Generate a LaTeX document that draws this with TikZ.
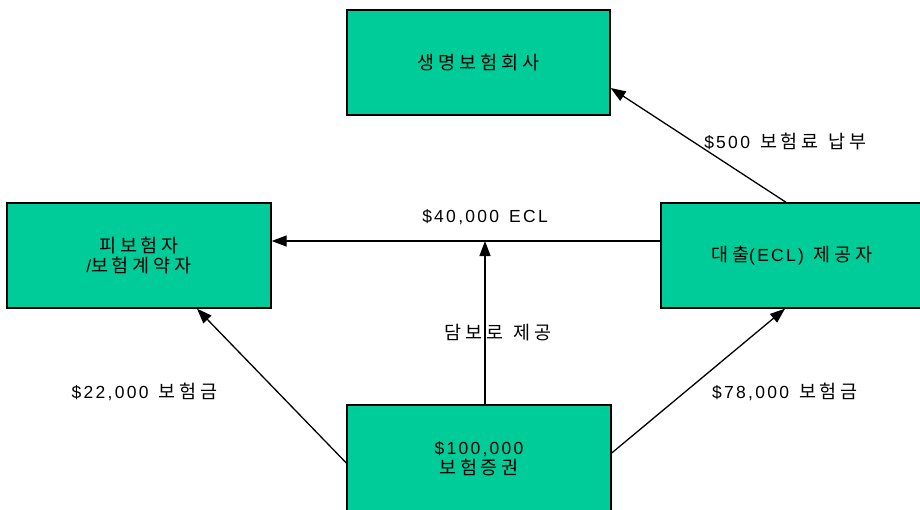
\documentclass[tikz,border=0pt]{standalone}
\usepackage{fontspec}
\usetikzlibrary{arrows.meta}
\newfontfamily\krfont[LetterSpace=21]{Noto Sans CJK KR}
\newfontfamily\lafont[LetterSpace=13]{Liberation Sans}
\newcommand{\kr}[1]{{\fontsize{18.5}{19.5}\krfont #1}}
\newcommand{\la}[1]{{\fontsize{17.5}{19.5}\lafont #1}}
\newcommand{\gap}{\hspace*{10pt}}
\definecolor{boxgreen}{RGB}{0,204,153}
\tikzset{
  party/.style={draw=black, line width=1.4pt, fill=boxgreen, align=center,
    inner sep=0pt, font=\fontsize{17.5}{19.5}\lafont},
  flow/.style={line width=1.3pt, -{Triangle[length=15pt,width=11pt]}},
  note/.style={font=\fontsize{17.5}{19.5}\lafont, inner sep=0pt}
}
\begin{document}
\begin{tikzpicture}[x=1pt,y=-1pt]
\path[use as bounding box] (0,0) rectangle (920,509);
\clip (0,0) rectangle (920,509);
\fill[white] (0,0) rectangle (920,509);

% parties
\node[party, minimum width=263pt, minimum height=105pt] (insurer) at (478.5,62.5) {\kr{생명보험회사}};
\node[party, minimum width=264pt, minimum height=105pt] (insured) at (139,255.5) {\kr{피보험자}\\\la{/}\kr{보험계약자}};
\node[party, minimum width=262pt, minimum height=105pt] (lender) at (792,255.5) {\kr{대출}\la{(ECL)}\gap\kr{제공자}};
\node[party, minimum width=264pt, minimum height=107pt] (policy) at (479,458.5) {\la{\$100,000}\\\kr{보험증권}};

\coordinate (join) at (485,241);

% flows
\draw[flow] ([xshift=-6pt]lender.north) -- ([yshift=-25.5pt]insurer.east);
\draw[flow] ([yshift=14.5pt]lender.west) -- ([yshift=14.5pt]insured.east);
\draw[flow] ([xshift=6pt]policy.north) -- (join);
\draw[flow] ([yshift=-4.5pt]policy.west) -- ([xshift=58pt]insured.south);
\draw[flow] ([yshift=5.5pt]policy.east) -- ([xshift=-7pt]lender.south);

% labels
\node[note] (l500) at (785.5,141) {\la{\$500}\gap\kr{보험료}\gap\kr{납부}};
\node[note] (l40) at (485,217) {\la{\$40,000}\gap\la{ECL}};
\node[note] (lcol) at (498,333) {\kr{담보로}\gap\kr{제공}};
\node[note] (l22) at (144.5,392) {\la{\$22,000}\gap\kr{보험금}};
\node[note] (l78) at (785,392) {\la{\$78,000}\gap\kr{보험금}};
\end{tikzpicture}
\end{document}
